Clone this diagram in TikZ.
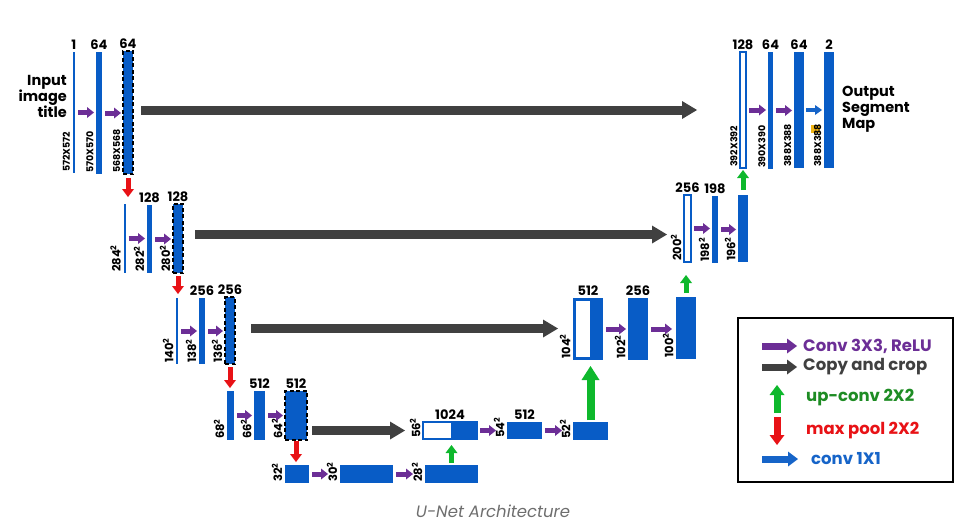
\documentclass[tikz,border=0pt]{standalone}
\usepackage{fontspec}
\setmainfont{Poppins}
\usepackage{tikz}
\usetikzlibrary{arrows.meta,calc,positioning}
\definecolor{ublue}{RGB}{8,92,198}
\definecolor{upurple}{RGB}{108,46,150}
\definecolor{ugray}{RGB}{64,64,64}
\definecolor{ugreen}{RGB}{14,184,44}
\definecolor{ured}{RGB}{232,18,22}
\definecolor{lgreen}{RGB}{30,140,36}
\definecolor{lblue}{RGB}{22,100,200}
\definecolor{uyellow}{RGB}{240,180,20}
\definecolor{capgray}{RGB}{110,110,110}

\begin{document}
\begin{tikzpicture}[x=1pt,y=-1pt,
  bar/.style={fill=ublue,inner sep=0pt,outer sep=0pt,anchor=north west},
  dashbar/.style={bar,draw=black,dash pattern=on 4pt off 2.5pt,line width=1.2pt},
  hollowbar/.style={bar,fill=white,draw=ublue,line width=1.6pt},
  num/.style={font=\bfseries\fontsize{13}{14}\selectfont,inner sep=1pt},
  dimlab/.style={xshift=-1.5pt,rotate=90,anchor=south west,inner sep=1pt,font=\bfseries\fontsize{9.5}{9.5}\selectfont},
  sqlab/.style={dimlab,font=\bfseries\fontsize{11.5}{11.5}\selectfont},
  convarrow/.style={draw=upurple,line width=5pt,-{Triangle[length=7pt,width=11pt,line width=0pt]},shorten <=3pt,shorten >=2pt},
  copyarrow/.style={draw=ugray,line width=9pt,-{Triangle[length=15pt,width=18pt,line width=0pt]}},
  poolarrow/.style={draw=ured,line width=5pt,-{Triangle[length=8pt,width=12pt,line width=0pt]}},
  uparrow/.style={draw=ugreen,line width=5pt,-{Triangle[length=8pt,width=12pt,line width=0pt]}},
  bigup/.style={draw=ugreen,line width=8pt,-{Triangle[length=14pt,width=18pt,line width=0pt]}},
  onearrow/.style={draw=lblue,line width=4pt,-{Triangle[length=7pt,width=10pt,line width=0pt]},shorten <=2pt,shorten >=2pt},
  legarrow/.style={line width=7pt,-{Triangle[length=10pt,width=15pt,line width=0pt]}},
  legtext/.style={anchor=west,inner sep=0pt,font=\bfseries\fontsize{16.5}{16.5}\selectfont},
  sidetext/.style={inner sep=0pt,font=\bfseries\fontsize{14.5}{16}\selectfont}
]
\useasboundingbox (0,0) rectangle (976,528);

\node[sidetext,align=right,anchor=east] (inp) at (67,96) {Input\\image\\title};
\node[bar,minimum width=2.5pt,minimum height=121pt] (i1) at (72.5,52) {};
\node[bar,minimum width=6pt,minimum height=122pt] (i2) at (96,52) {};
\node[dashbar,minimum width=10pt,minimum height=123pt] (i3) at (123,51) {};
\node[num,above=1.5pt of i1] (ni1) {1};
\node[num,above=1.5pt of i2] (ni2) {64};
\node[num,above=1.5pt of i3] (ni3) {64};
\node[dimlab] (si1) at (i1.south west) {572X572};
\node[dimlab] (si2) at (i2.south west) {570X570};
\node[dimlab] (si3) at (i3.south west) {568X568};

\node[bar,minimum width=2pt,minimum height=69pt] (t2) at (123.5,204) {};
\node[bar,minimum width=5pt,minimum height=68pt] (c2) at (147,205) {};
\node[dashbar,minimum width=10pt,minimum height=69pt] (d2) at (173,204) {};
\node[num,above=1.5pt of c2] (nc2) {128};
\node[num,above=1.5pt of d2] (nd2) {128};
\node[sqlab] (st2) at (t2.south west) {284\textsuperscript{2}};
\node[sqlab] (sc2) at (c2.south west) {282\textsuperscript{2}};
\node[sqlab] (sd2) at (d2.south west) {280\textsuperscript{2}};

\node[bar,minimum width=2pt,minimum height=66pt] (t3) at (176,298) {};
\node[bar,minimum width=6pt,minimum height=66pt] (c3) at (199,298) {};
\node[dashbar,minimum width=10pt,minimum height=67pt] (d3) at (225,297) {};
\node[num,above=1.5pt of c3] (nc3) {256};
\node[num,above=1.5pt of d3] (nd3) {256};
\node[sqlab] (st3) at (t3.south west) {140\textsuperscript{2}};
\node[sqlab] (sc3) at (c3.south west) {138\textsuperscript{2}};
\node[sqlab] (sd3) at (d3.south west) {136\textsuperscript{2}};

\node[bar,minimum width=7pt,minimum height=49pt] (t4) at (227,391) {};
\node[bar,minimum width=11pt,minimum height=49pt] (c4) at (254,391) {};
\node[dashbar,minimum width=22pt,minimum height=49pt] (d4) at (285,391) {};
\node[num,above=1.5pt of c4] (nc4) {512};
\node[num,above=1.5pt of d4] (nd4) {512};
\node[sqlab] (st4) at (t4.south west) {68\textsuperscript{2}};
\node[sqlab] (sc4) at (c4.south west) {66\textsuperscript{2}};
\node[sqlab] (sd4) at (d4.south west) {64\textsuperscript{2}};

\node[bar,minimum width=24pt,minimum height=18pt] (e1) at (285,465) {};
\node[bar,minimum width=53pt,minimum height=18pt] (e2) at (340,465) {};
\node[bar,minimum width=53pt,minimum height=18pt] (e3) at (425,465) {};
\node[sqlab] (se1) at (e1.south west) {32\textsuperscript{2}};
\node[sqlab] (se2) at (e2.south west) {30\textsuperscript{2}};
\node[sqlab] (se3) at (e3.south west) {28\textsuperscript{2}};

\node[bar,draw=ublue,line width=1.6pt,minimum width=54pt,minimum height=17pt] (u4) at (423,422) {};
\fill[white] ($(u4.north west)+(1.2,1.2)$) rectangle ($(u4.south west)+(28,-1.2)$);
\node[bar,minimum width=35pt,minimum height=17pt] (v4) at (507,422) {};
\node[bar,minimum width=35pt,minimum height=18pt] (w4) at (573,422) {};
\node[num,above=1.5pt of u4] (nu4) {1024};
\node[num,above=1.5pt of v4] (nv4) {512};
\node[sqlab] (su4) at (u4.south west) {56\textsuperscript{2}};
\node[sqlab] (sv4) at (v4.south west) {54\textsuperscript{2}};
\node[sqlab] (sw4) at (w4.south west) {52\textsuperscript{2}};

\node[bar,minimum width=30pt,minimum height=62pt] (u3) at (573,298) {};
\fill[white] ($(u3.north west)+(2.5,3)$) rectangle ($(u3.south west)+(17,-3)$);
\node[bar,minimum width=20pt,minimum height=62pt] (v3) at (628,298) {};
\node[bar,minimum width=20pt,minimum height=62pt] (w3) at (676,297) {};
\node[num,above=1.5pt of u3] (nu3) {512};
\node[num,above=1.5pt of v3] (nv3) {256};
\node[sqlab] (su3) at (u3.south west) {104\textsuperscript{2}};
\node[sqlab] (sv3) at (v3.south west) {102\textsuperscript{2}};
\node[sqlab] (sw3) at (w3.south west) {100\textsuperscript{2}};

\node[hollowbar,minimum width=7pt,minimum height=67pt] (u2) at (684,195) {};
\node[bar,minimum width=6pt,minimum height=67pt] (v2) at (712,196) {};
\node[bar,minimum width=10pt,minimum height=67pt] (w2) at (738,195) {};
\node[num,above=1.5pt of u2] (nu2) {256};
\node[num,above=1.5pt of v2] (nv2) {198};
\node[sqlab] (su2) at (u2.south west) {200\textsuperscript{2}};
\node[sqlab] (sv2) at (v2.south west) {198\textsuperscript{2}};
\node[sqlab] (sw2) at (w2.south west) {196\textsuperscript{2}};

\node[hollowbar,minimum width=6pt,minimum height=116pt] (u1) at (740,52) {};
\node[bar,minimum width=5pt,minimum height=117pt] (v1) at (768,52) {};
\node[bar,minimum width=10pt,minimum height=116pt] (w1) at (794,52) {};
\node[bar,minimum width=10pt,minimum height=116pt] (o1) at (824,52) {};
\node[num,above=1.5pt of u1] (nu1) {128};
\node[num,above=1.5pt of v1] (nv1) {64};
\node[num,above=1.5pt of w1] (nw1) {64};
\node[num,above=1.5pt of o1] (no1) {2};
\fill[uyellow] (811,125) rectangle (820,133);
\node[dimlab] (su1) at (u1.south west) {392X392};
\node[dimlab] (sv1) at (v1.south west) {390X390};
\node[dimlab] (sw1) at (w1.south west) {388X388};
\node[dimlab] (so1) at (o1.south west) {388X388};
\node[sidetext,align=left,anchor=west] (outp) at (842,109) {Output\\Segment\\Map};

\draw[convarrow] (i1.east) -- (i1.east -| i2.west);
\draw[convarrow] (i2.east) -- (i2.east -| i3.west);
\draw[copyarrow,shorten <=8pt,shorten >=43pt] (i3.east |- u1.west) -- (u1.west);
\draw[poolarrow,shorten <=4pt,shorten >=7pt] (i3.south) -- (i3.south |- t2.north);

\draw[convarrow] (t2.east) -- (t2.east -| c2.west);
\draw[convarrow] (c2.east) -- (c2.east -| d2.west);
\draw[copyarrow,shorten <=12pt,shorten >=17pt] ([yshift=4pt]d2.east) -- ([yshift=4pt]d2.east -| u2.west);
\draw[poolarrow,shorten <=3pt,shorten >=4pt] (d2.south) -- (d2.south |- t3.north);

\draw[convarrow] (t3.east) -- (t3.east -| c3.west);
\draw[convarrow] (c3.east) -- (c3.east -| d3.west);
\draw[copyarrow,shorten <=16pt,shorten >=15pt] ([yshift=2pt]d3.east) -- ([yshift=2pt]d3.east -| u3.west);
\draw[poolarrow,shorten <=3pt,shorten >=3pt] (d3.south) -- (d3.south |- t4.north);

\draw[convarrow] (t4.east) -- (t4.east -| c4.west);
\draw[convarrow] (c4.east) -- (c4.east -| d4.west);
\draw[copyarrow,shorten <=5pt,shorten >=18pt] (d4.east |- u4.west) -- (u4.west);
\draw[poolarrow,shorten <=1pt,shorten >=3pt] (d4.south) -- (d4.south |- e1.north);

\draw[convarrow,shorten >=12pt] (e1.east) -- (e1.east -| e2.west);
\draw[convarrow,shorten >=12pt] (e2.east) -- (e2.east -| e3.west);
\draw[uparrow,shorten <=2pt,shorten >=6pt] (e3.north) -- (e3.north |- u4.south);

\draw[convarrow,shorten >=11pt] (u4.east) -- (u4.east -| v4.west);
\draw[convarrow,shorten >=11pt] (v4.east) -- (v4.east -| w4.west);
\draw[bigup,shorten <=2pt,shorten >=6pt] (w4.north) -- (w4.north |- u3.south);

\draw[convarrow] (u3.east) -- (u3.east -| v3.west);
\draw[convarrow,shorten >=4pt] (v3.east) -- (v3.east -| w3.west);
\draw[uparrow,shorten <=4pt,shorten >=13pt] (w3.north) -- (w3.north |- u2.south);

\draw[convarrow] (u2.east) -- (u2.east -| v2.west);
\draw[convarrow] (v2.east) -- (v2.east -| w2.west);
\draw[uparrow,shorten <=5pt,shorten >=2pt] (w2.north) -- (w2.north |- u1.south);

\draw[convarrow] (u1.east) -- (u1.east -| v1.west);
\draw[convarrow] (v1.east) -- (v1.east -| w1.west);
\draw[onearrow] (w1.east) -- (w1.east -| o1.west);

\draw[line width=1.5pt] (738,318) rectangle (953,482);
\node[legtext,text=upurple] (lg1) at (803,346) {Conv 3X3, ReLU};
\node[legtext,text=ugray] (lg2) at (803,367) {Copy and crop};
\node[legtext,text=lgreen] (lg3) at (806,398) {up-conv 2X2};
\node[legtext,text=ured] (lg4) at (806,431) {max pool 2X2};
\node[legtext,text=lblue] (lg5) at (811,459) {conv 1X1};
\draw[legarrow,draw=upurple,shorten >=6pt] ([xshift=-41pt]lg1.west) -- (lg1.west);
\draw[legarrow,draw=ugray,shorten >=6pt] ([xshift=-41pt]lg2.west) -- (lg2.west);
\draw[legarrow,draw=ugreen] ([xshift=-29pt,yshift=-15pt]lg3.west) -- ([xshift=-29pt,yshift=13pt]lg3.west);
\draw[legarrow,draw=ured] ([xshift=-29pt,yshift=14pt]lg4.west) -- ([xshift=-29pt,yshift=-14pt]lg4.west);
\draw[legarrow,draw=lblue,shorten >=13pt] ([xshift=-49pt]lg5.west) -- (lg5.west);

\node[font=\itshape\fontsize{16.5}{16.5}\selectfont,text=capgray] (cap) at (493,511) {U-Net Architecture};
\end{tikzpicture}
\end{document}
